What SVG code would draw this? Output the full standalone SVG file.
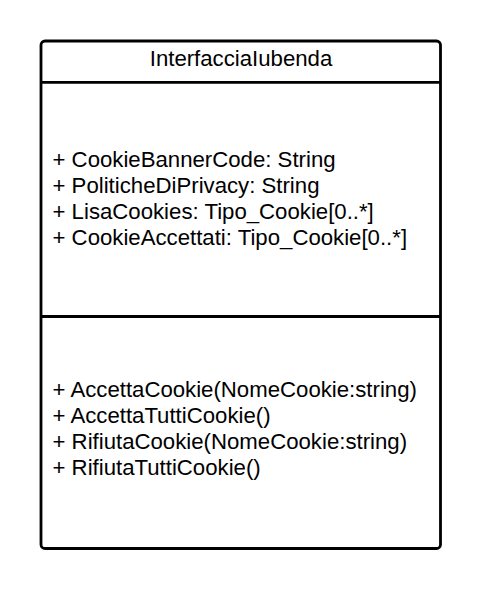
<svg xmlns="http://www.w3.org/2000/svg" width="480" height="589" viewBox="0 0 480 589">
<style>
.box{fill:#ffffff;stroke:#000000;stroke-width:2.8}
.div{stroke:#000000;stroke-width:2.8;fill:none}
text{font-family:"Liberation Sans",Arial,sans-serif;font-size:22.2px;fill:#000000}
</style>
<rect x="0" y="0" width="480" height="589" fill="#ffffff"/>
<g id="InterfacciaIubenda">
<rect class="box" x="41" y="41" width="399.5" height="507.5" rx="4" ry="4"/>
<g id="dividers">
<line class="div" x1="41" y1="82.3" x2="440.5" y2="82.3"/>
<line class="div" x1="41" y1="316.5" x2="440.5" y2="316.5"/>
</g>
<text x="241" y="65.7" text-anchor="middle">InterfacciaIubenda</text>
<text x="52.5" y="167.3">+ CookieBannerCode: String</text>
<text x="52.5" y="193.2">+ PoliticheDiPrivacy: String</text>
<text x="52.5" y="219">+ LisaCookies: Tipo_Cookie[0..*]</text>
<text x="52.5" y="244.8">+ CookieAccettati: Tipo_Cookie[0..*]</text>
<text x="52.5" y="397.3">+ AccettaCookie(NomeCookie:string)</text>
<text x="52.5" y="423.2">+ AccettaTuttiCookie()</text>
<text x="52.5" y="449">+ RifiutaCookie(NomeCookie:string)</text>
<text x="52.5" y="474.7">+ RifiutaTuttiCookie()</text>
</g>
</svg>
